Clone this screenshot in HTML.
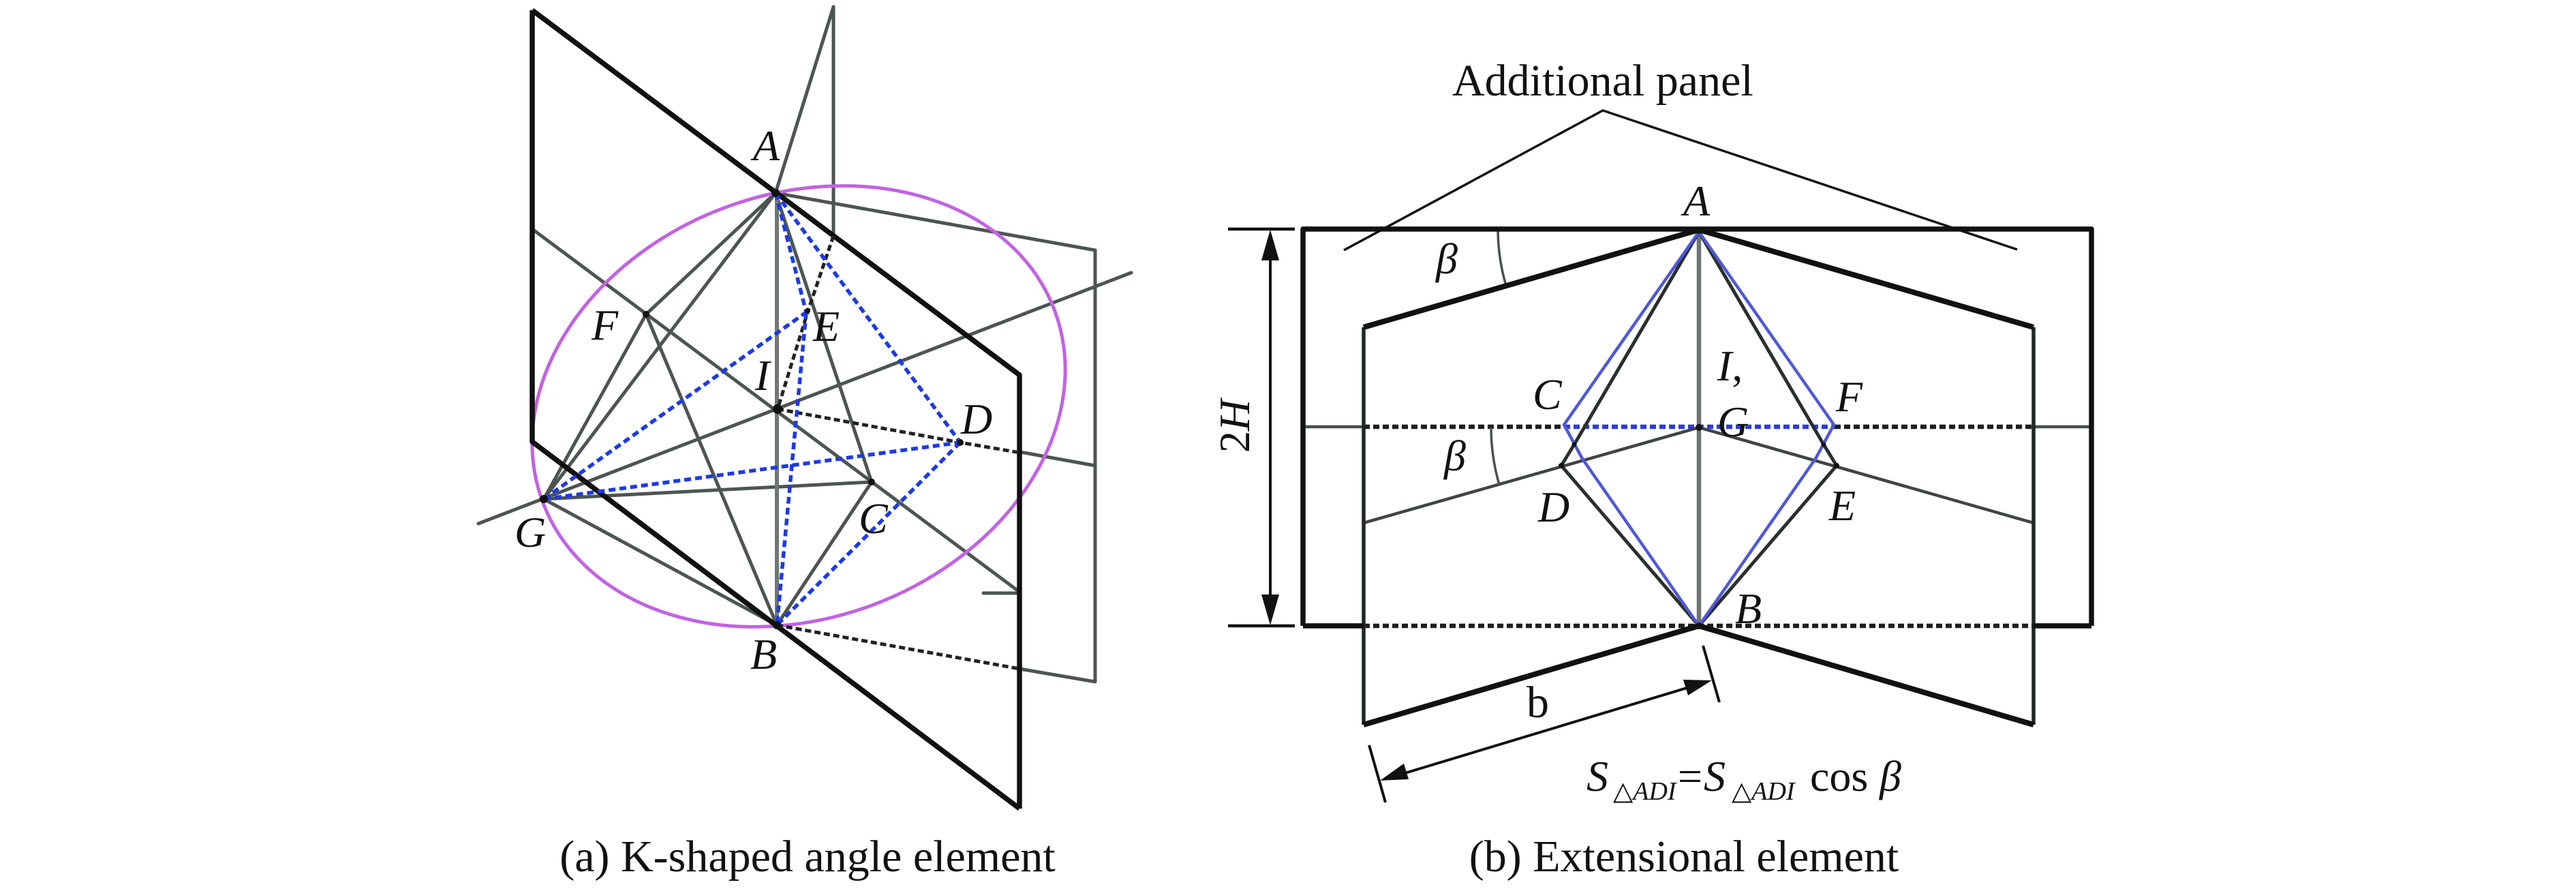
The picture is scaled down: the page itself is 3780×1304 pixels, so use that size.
<!DOCTYPE html>
<html>
<head>
<meta charset="utf-8">
<style>
  html, body { margin: 0; padding: 0; background: #fff; }
  svg { display: block; }
  text { font-family: "Liberation Serif", "DejaVu Serif", serif; fill: #111; }
  .it { font-style: italic; }
</style>
</head>
<body>
<svg width="3780" height="1304" viewBox="0 0 3780 1304" xmlns="http://www.w3.org/2000/svg">
  <rect x="0" y="0" width="3780" height="1304" fill="#ffffff"/>

  <!-- ================= LEFT DIAGRAM (a) ================= -->
  <g fill="none" stroke-linecap="round" stroke-linejoin="round">
    <!-- gray construction lines -->
    <g stroke="#4d5551" stroke-width="5">
      <path d="M1138,283 L1223,10"/>
      <path d="M1223,10 L1223,346"/>
      <path d="M1138,283 L1607,367 L1607,1000 L1496,981"/>
      <path d="M1138,283 L798,732"/>
      <path d="M1138,283 L948,461"/>
      <path d="M1138,283 L1279,707"/>
      <path d="M948,461 L798,732"/>
      <path d="M948,461 L1140,917"/>
      <path d="M781,336 L1493,866"/>
      <path d="M1443,870 L1493,870"/>
      <path d="M702,768 L1660,400"/>
      <path d="M798,732 L1279,707"/>
      <path d="M1279,707 L1140,917"/>
      <path d="M798,732 L1140,917"/>
      <path d="M1497,663 L1607,683"/>
    </g>
    <!-- vertical A-B -->
    <path d="M1140,285 L1140,915" stroke="#6f7773" stroke-width="6"/>

    <!-- purple ellipse -->
    <ellipse cx="1172" cy="596" rx="401" ry="311" transform="rotate(-20.5 1172 596)" stroke="#c262e4" stroke-width="5"/>

    <!-- main thick panel -->
    <path d="M781,15 L1496,550 L1496,1186 M781,15 L781,648 L1496,1186" stroke="#111" stroke-width="7.5" stroke-linecap="butt"/>

    <!-- dashed black hidden lines -->
    <g stroke="#1f2321" stroke-width="5" stroke-dasharray="9 5" stroke-linecap="butt">
      <path d="M1223,346 L1186,455 L1141,600"/>
      <path d="M1141,600 L1409,649 L1497,664"/>
      <path d="M1140,917 L1496,981"/>
    </g>

    <!-- blue dashed -->
    <g stroke="#1d3ae6" stroke-width="5.5" stroke-dasharray="10 6" stroke-linecap="butt">
      <path d="M1138,283 L1183,458"/>
      <path d="M1183,458 L1140,917"/>
      <path d="M1138,283 L1409,649"/>
      <path d="M1409,649 L1140,917"/>
      <path d="M798,732 L1183,458"/>
      <path d="M798,732 L1409,649"/>
    </g>
  </g>
  <!-- nodes -->
  <g fill="#111">
    <circle cx="1138" cy="283" r="6"/>
    <circle cx="1140" cy="917" r="6"/>
    <circle cx="1141" cy="600" r="7"/>
    <circle cx="798" cy="732" r="6"/>
    <circle cx="948" cy="461" r="5"/>
    <circle cx="1279" cy="707" r="5"/>
    <circle cx="1409" cy="649" r="5"/>
    <circle cx="1185" cy="456" r="4"/>
  </g>
  <!-- labels -->
  <g font-size="64">
    <text x="1105" y="235" class="it">A</text>
    <text x="868" y="498" class="it">F</text>
    <text x="1193" y="500" class="it">E</text>
    <text x="1108" y="572" class="it">I</text>
    <text x="1410" y="636" class="it">D</text>
    <text x="1260" y="782" class="it">C</text>
    <text x="755" y="802" class="it">G</text>
    <text x="1101" y="981" class="it">B</text>
  </g>
  <text x="1185" y="1278" font-size="66" text-anchor="middle">(a) K-shaped angle element</text>

  <!-- ================= RIGHT DIAGRAM (b) ================= -->
  <g fill="none" stroke-linecap="butt" stroke-linejoin="round">
    <!-- leader for Additional panel -->
    <path d="M1972,367 L2352,162 L2960,366" stroke="#111" stroke-width="3.5"/>

    <!-- middle line -->
    <path d="M1912,626 L2001,626 M2984,626 L3069,626" stroke="#4a504d" stroke-width="4.5"/>
    <path d="M2001,626 L2295,626 M2692,626 L2984,626" stroke="#1c1f1e" stroke-width="6.5" stroke-dasharray="9 5"/>
    <path d="M2295,626 L2692,626" stroke="#2d3be0" stroke-width="6.5" stroke-dasharray="9 5"/>

    <!-- bottom dashed -->
    <path d="M2001,918 L2984,918" stroke="#1c1f1e" stroke-width="6.5" stroke-dasharray="9 5"/>

    <!-- inner V -->
    <path d="M2001,767 L2493,627 L2984,767" stroke="#3f4542" stroke-width="4.5"/>

    <!-- center vertical -->
    <path d="M2493,340 L2493,915" stroke="#6e7471" stroke-width="6.5"/>

    <!-- dark rhombus -->
    <path d="M2493,340 L2310,652 L2291,683 L2493,918 M2493,340 L2676,652 L2695,683 L2493,918" stroke="#2a2f2d" stroke-width="5"/>

    <!-- blue rhombus -->
    <path d="M2493,340 L2295,623 L2322,673 L2493,918 M2493,340 L2691,623 L2664,673 L2493,918" stroke="#4f58d8" stroke-width="4.5"/>

    <!-- beta arcs -->
    <path d="M2198,337 A295,295 0 0,0 2210,419" stroke="#4a504d" stroke-width="3.5"/>
    <path d="M2188,627 A305,305 0 0,0 2200,711" stroke="#4a504d" stroke-width="3.5"/>

    <!-- folded panel -->
    <path d="M2001,1063 L2001,480" stroke="#222624" stroke-width="5.5"/>
    <path d="M2984,1063 L2984,480" stroke="#222624" stroke-width="5.5"/>
    <path d="M2001,480 L2493,337 L2984,480" stroke="#111" stroke-width="8"/>
    <path d="M2001,1063 L2493,918 L2984,1063" stroke="#111" stroke-width="8"/>

    <!-- outer rectangle -->
    <path d="M1912,918 L1912,336 L3069,336 L3069,918" stroke="#111" stroke-width="7.5"/>
    <path d="M1912,918 L2001,918 M2984,918 L3069,918" stroke="#111" stroke-width="7.5"/>

    <!-- 2H dimension -->
    <path d="M1802,336 L1900,336 M1802,918 L1900,918" stroke="#111" stroke-width="4.5"/>
    <path d="M1864,378 L1864,876" stroke="#111" stroke-width="4"/>

    <!-- b dimension -->
    <path d="M2009,1093 L2033,1177 M2499,947 L2523,1030" stroke="#111" stroke-width="4"/>
    <path d="M2055,1136 L2482,1007" stroke="#111" stroke-width="4"/>
  </g>
  <g fill="#111">
    <polygon points="1864,337 1851,382 1877,382"/>
    <polygon points="1864,917 1851,872 1877,872"/>
    <polygon points="2512,998 2477,1020 2470,997"/>
    <polygon points="2025,1145 2067,1143 2060,1120"/>
    <circle cx="2493" cy="627" r="5"/>
    <circle cx="2493" cy="918" r="5"/>
    <circle cx="2493" cy="338" r="5"/>
    <circle cx="2291" cy="683" r="4"/>
    <circle cx="2695" cy="683" r="4"/>
    <circle cx="2310" cy="652" r="3.5"/>
    <circle cx="2676" cy="652" r="3.5"/>
  </g>

  <!-- right labels -->
  <text x="2131" y="140" font-size="66">Additional panel</text>
  <g font-size="64">
    <text x="2470" y="316" class="it">A</text>
    <text x="2249" y="600" class="it">C</text>
    <text x="2520" y="558" class="it">I<tspan font-style="normal">,</tspan></text>
    <text x="2520" y="640" class="it">G</text>
    <text x="2694" y="603" class="it">F</text>
    <text x="2257" y="765" class="it">D</text>
    <text x="2684" y="763" class="it">E</text>
    <text x="2546" y="914" class="it">B</text>
    <text x="2107" y="401" class="it">β</text>
    <text x="2119" y="690" class="it">β</text>
  </g>
  <text transform="translate(1833,625) rotate(-90)" font-size="64" text-anchor="middle">2<tspan class="it">H</tspan></text>
  <text x="2240" y="1052" font-size="66">b</text>

  <!-- formula -->
  <text font-size="64">
    <tspan x="2328" y="1160" class="it">S</tspan>
    <tspan x="2367" y="1173" font-size="38">△</tspan><tspan y="1173" font-size="38" class="it">ADI</tspan>
    <tspan x="2462" y="1160">=</tspan>
    <tspan x="2500" y="1160" class="it">S</tspan>
    <tspan x="2541" y="1173" font-size="38">△</tspan><tspan y="1173" font-size="38" class="it">ADI</tspan>
    <tspan x="2656" y="1160">cos</tspan>
    <tspan x="2758" y="1160" class="it">β</tspan>
  </text>

  <text x="2471" y="1278" font-size="66" text-anchor="middle">(b) Extensional element</text>
</svg>
</body>
</html>
